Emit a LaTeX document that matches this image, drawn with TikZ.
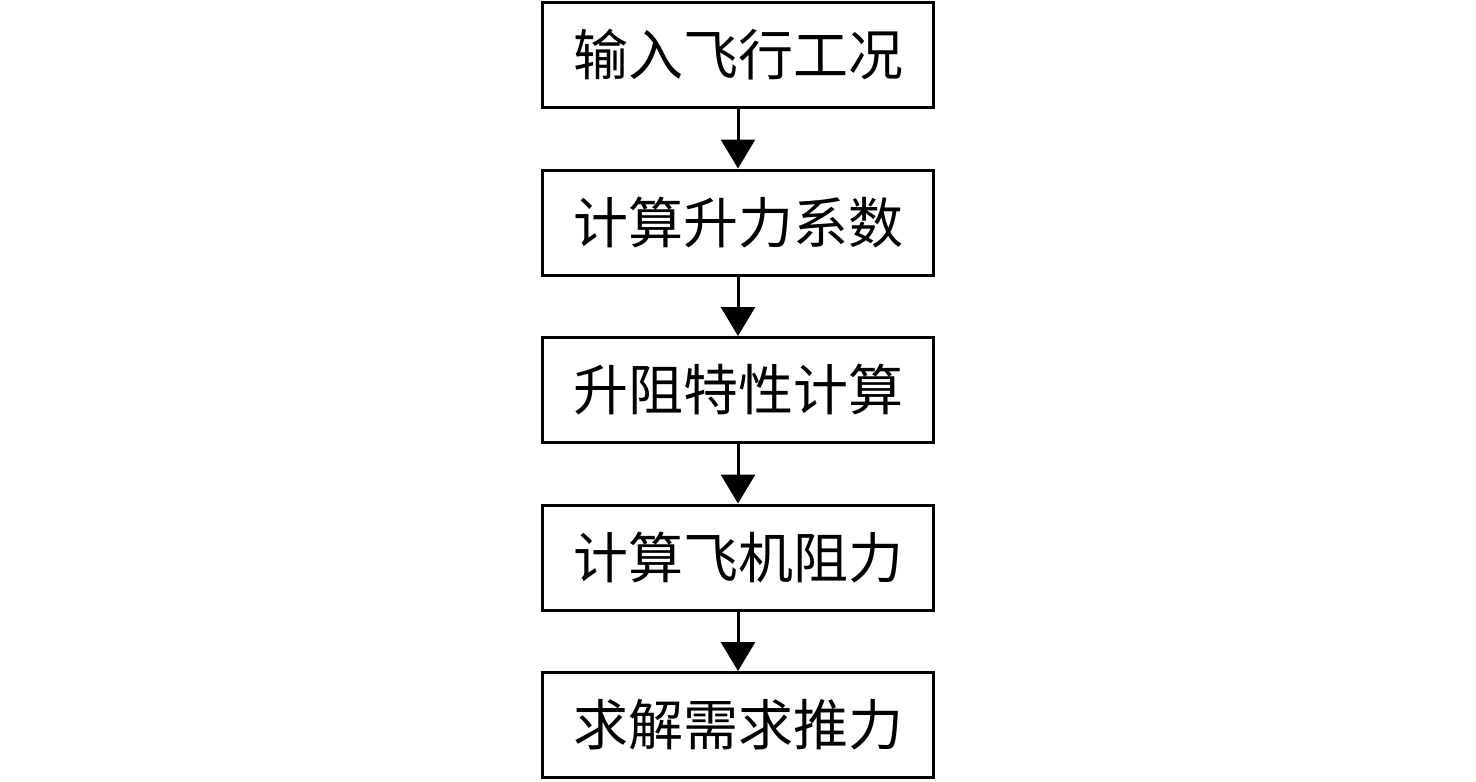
\documentclass[tikz,border=0pt]{standalone}
\usepackage{fontspec}
\setmainfont{Noto Sans CJK SC}
\usetikzlibrary{arrows.meta}
\tikzset{
  stepbox/.style={draw=black, line width=1.5pt, minimum width=195.5pt, minimum height=52.5pt, inner sep=0pt, font=\fontsize{27.5pt}{30pt}\selectfont, fill=white},
  flow/.style={line width=1.5pt, -{Triangle[length=14.5pt, width=17pt]}}
}
\begin{document}
\begin{tikzpicture}[x=0.5pt, y=-0.5pt]
\useasboundingbox (0,0) rectangle (1476,781);
\node[stepbox] (a) at (738,55) {输入飞行工况};
\node[stepbox] (b) at (738,222.5) {计算升力系数};
\node[stepbox] (c) at (738,390) {升阻特性计算};
\node[stepbox] (d) at (738,557.5) {计算飞机阻力};
\node[stepbox] (e) at (738,725) {求解需求推力};
\draw[flow] (a) -- (b);
\draw[flow] (b) -- (c);
\draw[flow] (c) -- (d);
\draw[flow] (d) -- (e);
\end{tikzpicture}
\end{document}
